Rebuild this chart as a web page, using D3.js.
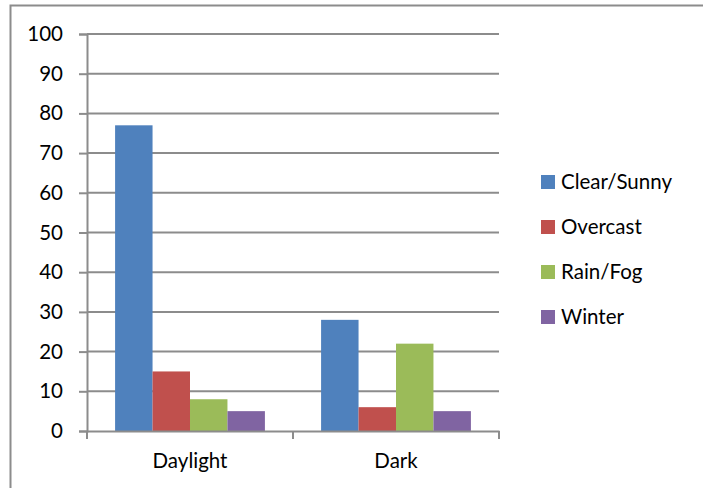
<!DOCTYPE html>
<html>
<head>
<meta charset="utf-8">
<script src="https://cdn.jsdelivr.net/npm/d3@7"></script>
<style>
  body { margin: 0; background: #fff; }
  svg { display: block; }
  text { font-family: Lato, "Open Sans", sans-serif; fill: #000; }
</style>
</head>
<body>
<svg></svg>
<script>
const categories = ["Daylight", "Dark"];
const seriesNames = ["Clear/Sunny", "Overcast", "Rain/Fog", "Winter"];
const clearSunny = [77, 28];
const overcast = [15, 6];
const rainFog = [8, 22];
const winter = [5, 5];
const yTicks = [0, 10, 20, 30, 40, 50, 60, 70, 80, 90, 100];
const colors = ["#4F81BD", "#C0504D", "#9BBB59", "#8064A2"];

const seriesValues = [clearSunny, overcast, rainFog, winter];

const width = 703, height = 488;
const fontSize = "20.5px";
const svg = d3.select("svg").attr("width", width).attr("height", height);

// outer chart border
svg.append("rect")
    .attr("x", 10.5).attr("y", 5.5)
    .attr("width", 720).attr("height", 500)
    .attr("fill", "none").attr("stroke", "#8c8c8c").attr("stroke-width", 2);

const plotLeft = 87, plotRight = 499, plotTop = 34, plotBottom = 431;

const x = d3.scaleBand().domain(categories).range([plotLeft, plotRight]);
const inner = d3.scaleBand().domain(seriesNames)
    .range([0, x.bandwidth()]).paddingOuter(0.75);
const y = d3.scaleLinear().domain([0, 100]).range([plotBottom, plotTop]);

// gridlines
svg.append("g").selectAll("line")
    .data(yTicks.filter(d => d > 0))
    .enter().append("line")
    .attr("x1", plotLeft).attr("x2", plotRight)
    .attr("y1", d => y(d)).attr("y2", d => y(d))
    .attr("stroke", "#8c8c8c").attr("stroke-width", 2);

// bars
const rows = categories.map((c, i) => ({ cat: c, vals: seriesNames.map((s, j) => ({ s, v: seriesValues[j][i], j })) }));
svg.append("g").selectAll("g")
    .data(rows)
    .enter().append("g")
    .attr("transform", d => `translate(${x(d.cat)},0)`)
    .selectAll("rect")
    .data(d => d.vals)
    .enter().append("rect")
    .attr("x", d => inner(d.s))
    .attr("width", inner.bandwidth())
    .attr("y", d => y(d.v))
    .attr("height", d => y(0) - y(d.v))
    .attr("fill", d => colors[d.j]);

// y axis
const yAxis = svg.append("g")
    .attr("transform", `translate(${plotLeft},0)`)
    .call(d3.axisLeft(y).tickValues(yTicks).tickSize(8).tickPadding(16));
yAxis.select(".domain").attr("stroke", "#8c8c8c").attr("stroke-width", 2);
yAxis.selectAll(".tick line").attr("stroke", "#8c8c8c").attr("stroke-width", 2);
yAxis.selectAll(".tick text").style("font-size", fontSize).style("font-family", "Lato, sans-serif").attr("fill", "#000");

// x axis
const xAxis = svg.append("g")
    .attr("transform", `translate(0,${plotBottom})`)
    .call(d3.axisBottom(x).tickSize(0).tickPadding(22));
xAxis.select(".domain").attr("stroke", "#8c8c8c").attr("stroke-width", 2);
xAxis.selectAll(".tick text").style("font-size", fontSize).style("font-family", "Lato, sans-serif").attr("fill", "#000");
xAxis.selectAll(".sep")
    .data(d3.range(categories.length + 1))
    .enter().append("line")
    .attr("x1", i => plotLeft + i * x.step()).attr("x2", i => plotLeft + i * x.step())
    .attr("y1", 0).attr("y2", 8)
    .attr("stroke", "#8c8c8c").attr("stroke-width", 2);

// legend
const legend = svg.append("g").attr("transform", "translate(541,182)");
const item = legend.selectAll("g")
    .data(seriesNames)
    .enter().append("g")
    .attr("transform", (d, i) => `translate(0,${i * 45})`);
item.append("rect")
    .attr("x", 0).attr("y", -7)
    .attr("width", 14).attr("height", 14)
    .attr("fill", (d, i) => colors[i]);
item.append("text")
    .attr("x", 20).attr("y", 0)
    .attr("dy", "0.35em")
    .style("font-size", fontSize)
    .text(d => d);
</script>
</body>
</html>
